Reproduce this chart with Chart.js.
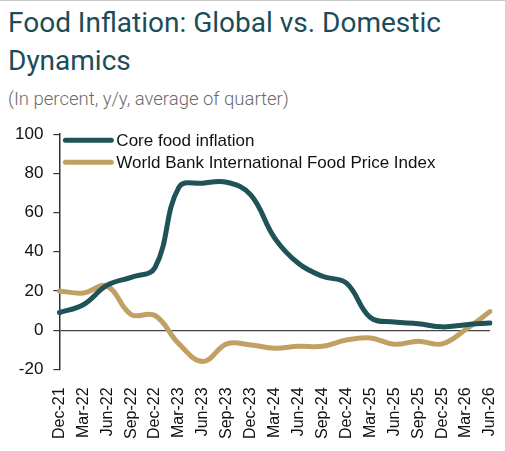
<!DOCTYPE html>
<html>
<head>
<meta charset="utf-8">
<script src="https://cdn.jsdelivr.net/npm/chart.js@4"></script>
<style>
    body { margin: 0; background: #fff; width: 505px; height: 451px; overflow: hidden; }
    .topline { position: absolute; left: 0; top: 0; width: 505px; height: 1px; background: #c8c8c8; }
    .titulo { position: absolute; left: 8px; top: 4px; font-family: Roboto, sans-serif; font-size: 28px; line-height: 38px; color: #1b4d58; }
    .subtitulo { position: absolute; left: 8px; top: 88px; font-family: Roboto, sans-serif; font-weight: 300; font-size: 18.5px; color: #6b6b6b; }
    .chart-box { position: absolute; left: 0; top: 114px; width: 505px; height: 335px; }
</style>
</head>
<body>
<div class="topline"></div>
<div class="titulo">Food Inflation: Global vs. Domestic<br>Dynamics</div>
<div class="subtitulo">(In percent, y/y, average of quarter)</div>
<div class="chart-box"><canvas id="inflacionChart"></canvas></div>

<script>
// Trimestres del eje X
const trimestres = ['Dec-21', 'Mar-22', 'Jun-22', 'Sep-22', 'Dec-22', 'Mar-23', 'Jun-23', 'Sep-23', 'Dec-23',
    'Mar-24', 'Jun-24', 'Sep-24', 'Dec-24', 'Mar-25', 'Jun-25', 'Sep-25', 'Dec-25', 'Mar-26', 'Jun-26'];

// Inflacion de alimentos (core)
const inflacionCore = [9, 13, 23, 27, 32, 73, 75, 75.5, 69, 47, 34, 27.5, 24, 6.5, 4.2, 3.3, 1.7, 2.8, 3.7];

// Indice de precios de alimentos del Banco Mundial
const indiceBancoMundial = [20, 19, 22.5, 8, 7.5, -7, -16, -7, -7.5, -9.2, -8.2, -8.2, -5, -4, -7.2, -5.6, -7, 0.5, 9.5];

const ticksY = [-20, 0, 20, 40, 60, 80, 100];

const colorCore = '#1f5357';
const colorBanco = '#c1a163';

const fuenteEje = 'Liberation Sans, Arial, sans-serif';

// Leyenda dibujada dentro del area del grafico, arriba a la izquierda
const leyendaInterna = {
    id: 'leyendaInterna',
    afterDraw(chart) {
        const c = chart.ctx;
        const area = chart.chartArea;
        c.save();
        c.font = '17px ' + fuenteEje;
        c.textBaseline = 'middle';
        chart.data.datasets.forEach((ds, i) => {
            const y = area.top + 6 + i * 22;
            const x0 = area.left + 6;
            c.strokeStyle = ds.borderColor;
            c.lineWidth = 5;
            c.lineCap = 'round';
            c.beginPath();
            c.moveTo(x0, y);
            c.lineTo(x0 + 46, y);
            c.stroke();
            c.fillStyle = '#111';
            c.fillText(ds.label, x0 + 51, y + 1);
        });
        c.restore();
    }
};

const ctx = document.getElementById('inflacionChart').getContext('2d');

new Chart(ctx, {
    type: 'line',
    data: {
        labels: trimestres,
        datasets: [{
            label: 'Core food inflation',
            data: inflacionCore,
            borderColor: colorCore,
            backgroundColor: colorCore,
            borderWidth: 5,
            pointRadius: 0,
            tension: 0.4,
            borderCapStyle: 'round'
        }, {
            label: 'World Bank International Food Price Index',
            data: indiceBancoMundial,
            borderColor: colorBanco,
            backgroundColor: colorBanco,
            borderWidth: 5,
            pointRadius: 0,
            tension: 0.4,
            borderCapStyle: 'round'
        }]
    },
    options: {
        responsive: true,
        maintainAspectRatio: false,
        animation: false,
        layout: {
            padding: { left: 5, right: 15, top: 2, bottom: 0 }
        },
        scales: {
            x: {
                offset: false,
                grid: { display: false },
                border: { display: false },
                afterFit: function(eje) {
                    eje.paddingLeft = 0;
                    eje.paddingRight = 0;
                },
                ticks: {
                    minRotation: 90,
                    maxRotation: 90,
                    autoSkip: false,
                    color: '#111',
                    padding: 10,
                    font: { family: fuenteEje, size: 16 }
                }
            },
            y: {
                min: -20,
                max: 100,
                afterBuildTicks: function(eje) {
                    eje.ticks = ticksY.map(v => ({ value: v }));
                },
                border: { display: true, color: '#333', width: 1.5 },
                grid: {
                    color: c => (c.tick && c.tick.value === 0) ? '#444' : 'rgba(0,0,0,0)',
                    tickColor: '#333',
                    tickLength: 6,
                    lineWidth: 1.2
                },
                ticks: {
                    color: '#111',
                    padding: 10,
                    font: { family: fuenteEje, size: 17 }
                }
            }
        },
        plugins: {
            legend: { display: false },
            tooltip: { enabled: false }
        }
    },
    plugins: [leyendaInterna]
});
</script>
</body>
</html>
